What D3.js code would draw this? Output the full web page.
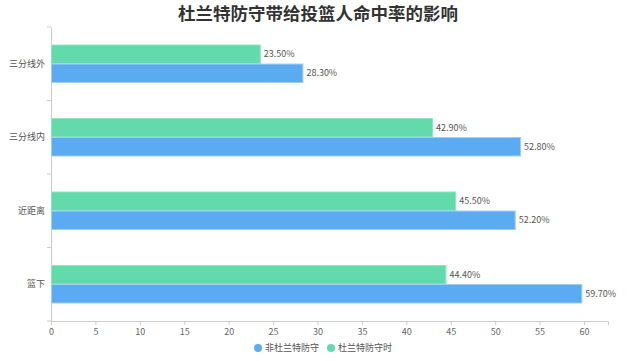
<!DOCTYPE html>
<html><head><meta charset="utf-8">
<script src="https://cdn.jsdelivr.net/npm/d3@7"></script>
<style>html,body{margin:0;padding:0;background:#fff;}svg{display:block;font-family:"Noto Sans CJK SC","Noto Sans",sans-serif;}</style>
</head><body><svg id="c" width="640" height="361"></svg>
<script>
const categories = ["三分线外", "三分线内", "近距离", "篮下"];
const seriesNames = ["杜兰特防守时", "非杜兰特防守"];
const durantDefense = [23.5, 42.9, 45.5, 44.4];
const nonDurantDefense = [28.3, 52.8, 52.2, 59.7];
const xTicks = [0,5,10,15,20,25,30,35,40,45,50,55,60];
const colors = ["#62daab", "#5aabf2"];
const strokes = ["#8ee6c2", "#9fcdf7"];

const svg = d3.select("#c");
const m = {left: 51, right: 32, top: 27, bottom: 40};
const W = 640, H = 361;
const x = d3.scaleLinear().domain([0, 62.7]).range([m.left, W - m.right]);
const y = d3.scaleBand().domain(categories).range([m.top, H - m.bottom]);
const sub = d3.scaleBand().domain([0,1]).range([y.bandwidth()*0.245, y.bandwidth()*0.755]).paddingInner(0.03);

svg.append("text").attr("x", 318).attr("y", 20).attr("text-anchor","middle")
  .attr("font-size", 17.5).attr("font-weight","bold").attr("fill","#333").text("杜兰特防守带给投篮人命中率的影响");

// axes
const xAxis = svg.append("g").attr("transform", `translate(0,${H - m.bottom})`)
  .call(d3.axisBottom(x).tickValues(xTicks).tickSize(4).tickPadding(4));
xAxis.select(".domain").attr("stroke","#ccc");
xAxis.selectAll(".tick line").attr("stroke","#ccc");
xAxis.selectAll(".tick text").attr("fill","#666").attr("font-size",9).attr("font-family","'Noto Sans CJK SC',sans-serif");

const yAxis = svg.append("g").attr("transform", `translate(${m.left},0)`)
  .call(d3.axisLeft(y).tickSize(0).tickPadding(6));
yAxis.select(".domain").attr("stroke","#ccc");
yAxis.selectAll(".tick text").attr("fill","#555").attr("font-size",9).attr("font-family","'Noto Sans CJK SC',sans-serif");
// boundary ticks
const bounds = categories.map(c => y(c)).concat([y.range()[1]]);
svg.append("g").selectAll("line").data(bounds).join("line")
  .attr("x1", m.left - 4).attr("x2", m.left).attr("y1", d => d).attr("y2", d => d).attr("stroke","#ccc");

const seriesData = [durantDefense, nonDurantDefense];
seriesData.forEach((vals, si) => {
  const g = svg.append("g");
  g.selectAll("rect").data(vals).join("rect")
    .attr("x", x(0) + 0.5)
    .attr("y", (d,i) => y(categories[i]) + sub(si))
    .attr("width", d => x(d) - x(0))
    .attr("height", sub.bandwidth())
    .attr("fill", colors[si]).attr("stroke", strokes[si]).attr("stroke-width", 1);
  g.selectAll("text").data(vals).join("text")
    .attr("x", d => x(d) + 4)
    .attr("y", (d,i) => y(categories[i]) + sub(si) + sub.bandwidth()/2)
    .attr("dy", "0.35em").attr("font-size", 9).attr("fill","#555")
    .text(d => d.toFixed(2) + "%");
});

// legend
const legendItems = [{name: seriesNames[1], color: colors[1]}, {name: seriesNames[0], color: colors[0]}];
const lx = [258, 331];
legendItems.forEach((it, i) => {
  svg.append("circle").attr("cx", lx[i]).attr("cy", 348).attr("r", 4).attr("fill", it.color);
  svg.append("text").attr("x", lx[i] + 7).attr("y", 348).attr("dy","0.35em").attr("font-size",9).attr("fill","#555").text(it.name);
});
</script></body></html>
